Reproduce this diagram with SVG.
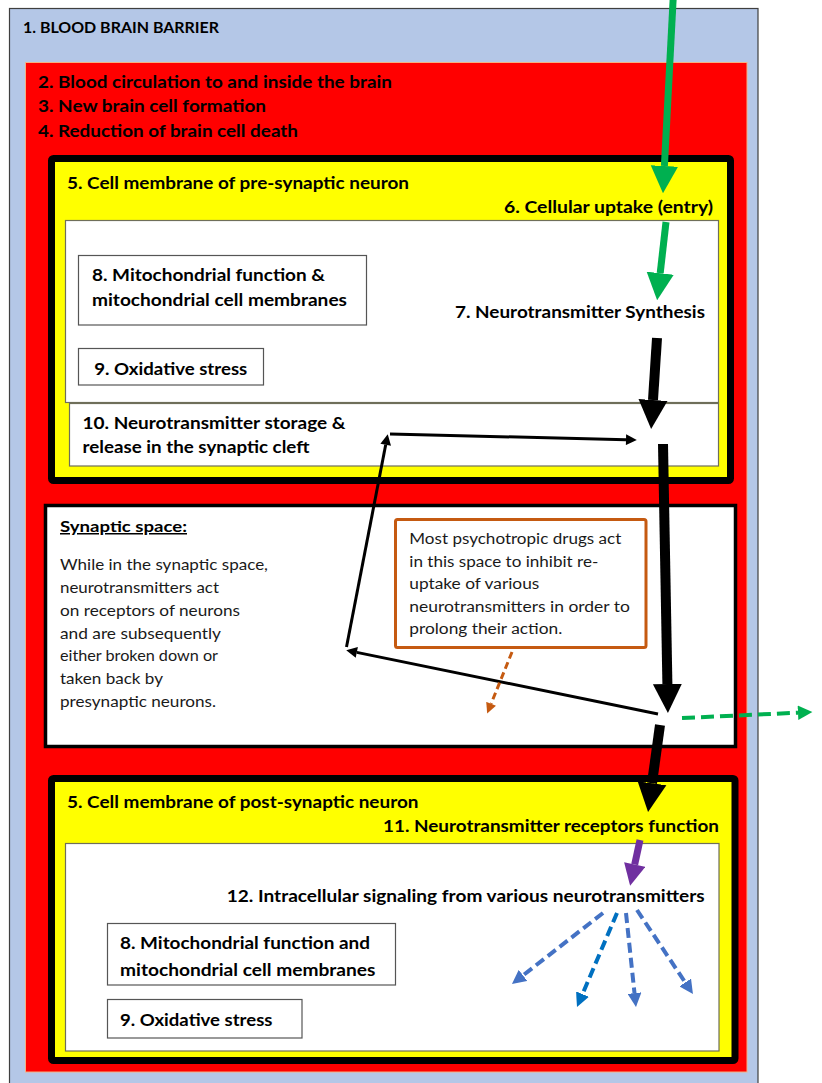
<svg xmlns="http://www.w3.org/2000/svg" width="822" height="1083" viewBox="0 0 822 1083">
<style>
text{font-family:Lato,"Liberation Sans",sans-serif;fill:#000}
.b{font-weight:700;font-size:17px}
.h1{font-weight:700;font-size:15.5px}
.r{font-weight:400;font-size:15px;fill:#1a1a1a}
.frame{fill:#FFFF00;stroke:#000;stroke-width:7}
.inner{fill:#fff;stroke:#6f6f5a;stroke-width:1.2}
.box{fill:#fff;stroke:#555;stroke-width:1.2}
.thick{stroke:#000;stroke-width:10;fill:none}
.thin{stroke:#000;stroke-width:3;fill:none}
.green{stroke:#00B050;stroke-width:7;fill:none}
.gdash{stroke:#00B050;stroke-width:4;fill:none;stroke-dasharray:13 6}
.odash{stroke:#C55A11;stroke-width:3;fill:none;stroke-dasharray:7 4}
.purple{stroke:#7030A0;stroke-width:7;fill:none}
.bdash{stroke:#4472C4;stroke-width:4;fill:none;stroke-dasharray:10 5}
.bdash2{stroke:#0070C0;stroke-width:4;fill:none;stroke-dasharray:10 5}
</style>
<defs>
<marker id="hBlackThick" viewBox="0 0 10 10" refX="0" refY="5" markerUnits="strokeWidth" markerWidth="2.9" markerHeight="3" orient="auto"><path d="M0,0 L10,5 L0,10 z" fill="#000"/></marker>
<marker id="hBlackThin" viewBox="0 0 10 10" refX="0" refY="5" markerUnits="strokeWidth" markerWidth="4" markerHeight="3.6" orient="auto"><path d="M0,0 L10,5 L0,10 z" fill="#000"/></marker>
<marker id="hGreen" viewBox="0 0 10 10" refX="0" refY="5" markerUnits="strokeWidth" markerWidth="3.9" markerHeight="4.2" orient="auto"><path d="M0,0 L10,5 L0,10 z" fill="#00B050"/></marker>
<marker id="hGreenD" viewBox="0 0 10 10" refX="0" refY="5" markerUnits="strokeWidth" markerWidth="3.75" markerHeight="3.6" orient="auto"><path d="M0,0 L10,5 L0,10 z" fill="#00B050"/></marker>
<marker id="hOrange" viewBox="0 0 10 10" refX="0" refY="5" markerUnits="strokeWidth" markerWidth="3.7" markerHeight="3.5" orient="auto"><path d="M0,0 L10,5 L0,10 z" fill="#C55A11"/></marker>
<marker id="hPurple" viewBox="0 0 10 10" refX="0" refY="5" markerUnits="strokeWidth" markerWidth="3.2" markerHeight="3.1" orient="auto"><path d="M0,0 L10,5 L0,10 z" fill="#7030A0"/></marker>
<marker id="hBlue" viewBox="0 0 10 10" refX="0" refY="5" markerUnits="strokeWidth" markerWidth="3.5" markerHeight="3.5" orient="auto"><path d="M0,0 L10,5 L0,10 z" fill="#4472C4"/></marker>
<marker id="hBlue2" viewBox="0 0 10 10" refX="0" refY="5" markerUnits="strokeWidth" markerWidth="3.5" markerHeight="3.5" orient="auto"><path d="M0,0 L10,5 L0,10 z" fill="#0070C0"/></marker>
</defs>
<rect width="822" height="1083" fill="#fff"/>

<g id="n1-bbb">
<rect x="9.5" y="8.5" width="748.5" height="1080" fill="#B4C7E7" stroke="#3f3f3f" stroke-width="1.2"/>
<text class="h1" x="23" y="33" textLength="196" lengthAdjust="spacingAndGlyphs">1. BLOOD BRAIN BARRIER</text>
</g>

<g id="n2-circulation">
<rect x="25.5" y="62.5" width="721.5" height="1009.5" fill="#FF0000" stroke="#F4B183" stroke-width="1"/>
<text class="b" x="38" y="87.5" textLength="354" lengthAdjust="spacingAndGlyphs">2. Blood circulation to and inside the brain</text>
<text class="b" x="38" y="112" textLength="228" lengthAdjust="spacingAndGlyphs">3. New brain cell formation</text>
<text class="b" x="38" y="136.5" textLength="260" lengthAdjust="spacingAndGlyphs">4. Reduction of brain cell death</text>
</g>

<g id="n5-pre">
<rect class="frame" x="51.5" y="158.5" width="679" height="322" rx="2"/>
<text class="b" x="67" y="188.5" textLength="342" lengthAdjust="spacingAndGlyphs">5. Cell membrane of pre-synaptic neuron</text>
<text class="b" x="504" y="212.5" textLength="209" lengthAdjust="spacingAndGlyphs">6. Cellular uptake (entry)</text>
</g>

<g id="n7-synthesis">
<rect class="inner" x="65.5" y="220.5" width="653" height="182"/>
<text class="b" x="455" y="318" textLength="250" lengthAdjust="spacingAndGlyphs">7. Neurotransmitter Synthesis</text>
</g>

<g id="n10-storage">
<rect class="inner" x="69.5" y="403.5" width="649" height="62.5"/>
<text class="b" x="82.5" y="429" textLength="263" lengthAdjust="spacingAndGlyphs">10. Neurotransmitter storage &amp;</text>
<text class="b" x="82.5" y="453" textLength="227" lengthAdjust="spacingAndGlyphs">release in the synaptic cleft</text>
</g>

<g id="n8-mito-pre">
<rect class="box" x="78.5" y="255.5" width="288" height="69.5"/>
<text class="b" x="92" y="281" textLength="233" lengthAdjust="spacingAndGlyphs">8. Mitochondrial function &amp;</text>
<text class="b" x="92" y="305.5" textLength="255" lengthAdjust="spacingAndGlyphs">mitochondrial cell membranes</text>
</g>

<g id="n9-ox-pre">
<rect class="box" x="78.5" y="348.5" width="185" height="36.5"/>
<text class="b" x="94.3" y="375" textLength="153" lengthAdjust="spacingAndGlyphs">9. Oxidative stress</text>
</g>

<g id="n-synaptic">
<rect x="45.5" y="505.5" width="690" height="241" fill="#fff" stroke="#000" stroke-width="3.5"/>
<text class="h1" x="60" y="532" textLength="127" lengthAdjust="spacingAndGlyphs" text-decoration="underline" style="font-size:15px">Synaptic space:</text>
<text class="r" x="60" y="570" textLength="208" lengthAdjust="spacingAndGlyphs">While in the synaptic space,</text>
<text class="r" x="60" y="593" textLength="159" lengthAdjust="spacingAndGlyphs">neurotransmitters act</text>
<text class="r" x="60" y="615.5" textLength="180" lengthAdjust="spacingAndGlyphs">on receptors of neurons</text>
<text class="r" x="60" y="638.5" textLength="161" lengthAdjust="spacingAndGlyphs">and are subsequently</text>
<text class="r" x="60" y="661" textLength="158" lengthAdjust="spacingAndGlyphs">either broken down or</text>
<text class="r" x="60" y="684" textLength="103" lengthAdjust="spacingAndGlyphs">taken back by</text>
<text class="r" x="60" y="706.5" textLength="156" lengthAdjust="spacingAndGlyphs">presynaptic neurons.</text>
</g>

<g id="n-drugs">
<rect x="395.5" y="519.5" width="250.5" height="128" rx="2" fill="#fff" stroke="#C55A11" stroke-width="3"/>
<text class="r" x="409.3" y="544" textLength="212" lengthAdjust="spacingAndGlyphs" style="font-size:15.5px">Most psychotropic drugs act</text>
<text class="r" x="409.3" y="566.5" textLength="189" lengthAdjust="spacingAndGlyphs" style="font-size:15.5px">in this space to inhibit re-</text>
<text class="r" x="409.3" y="589" textLength="130" lengthAdjust="spacingAndGlyphs" style="font-size:15.5px">uptake of various</text>
<text class="r" x="409.3" y="611.5" textLength="220.5" lengthAdjust="spacingAndGlyphs" style="font-size:15.5px">neurotransmitters in order to</text>
<text class="r" x="409.3" y="634" textLength="153" lengthAdjust="spacingAndGlyphs" style="font-size:15.5px">prolong their action.</text>
</g>

<g id="n5-post">
<rect class="frame" x="51.5" y="778.5" width="683.5" height="282" rx="2"/>
<text class="b" x="67" y="808" textLength="351.5" lengthAdjust="spacingAndGlyphs">5. Cell membrane of post-synaptic neuron</text>
<text class="b" x="383" y="832" textLength="336" lengthAdjust="spacingAndGlyphs">11. Neurotransmitter receptors function</text>
</g>

<g id="n12-signaling">
<rect class="inner" x="65.5" y="843.5" width="653.5" height="207.5"/>
<text class="b" x="226.7" y="902" textLength="478" lengthAdjust="spacingAndGlyphs">12. Intracellular signaling from various neurotransmitters</text>
</g>

<g id="n8-mito-post">
<rect class="box" x="107.5" y="923.5" width="288" height="61.5"/>
<text class="b" x="120" y="949" textLength="250" lengthAdjust="spacingAndGlyphs">8. Mitochondrial function and</text>
<text class="b" x="120" y="976" textLength="255.5" lengthAdjust="spacingAndGlyphs">mitochondrial cell membranes</text>
</g>

<g id="n9-ox-post">
<rect class="box" x="107.5" y="999.5" width="194.5" height="38.5"/>
<text class="b" x="120" y="1026" textLength="152.5" lengthAdjust="spacingAndGlyphs">9. Oxidative stress</text>
</g>

<g id="connectors">
<line class="green" x1="673.2" y1="-2" x2="664.4" y2="166" marker-end="url(#hGreen)"/>
<line class="green" x1="666" y1="222" x2="660.2" y2="273.2" marker-end="url(#hGreen)"/>
<line class="thick" x1="657" y1="338" x2="653" y2="400" marker-end="url(#hBlackThick)"/>
<line class="thin" x1="390" y1="434" x2="626" y2="439.7" marker-end="url(#hBlackThin)"/>
<line class="thick" x1="663" y1="444" x2="667.4" y2="684" marker-end="url(#hBlackThick)"/>
<line class="thin" x1="658" y1="714" x2="356.8" y2="652.4" marker-end="url(#hBlackThin)"/>
<line class="thin" x1="346.5" y1="647" x2="385.7" y2="444.8" marker-end="url(#hBlackThin)"/>
<line class="odash" x1="512" y1="652" x2="491.1" y2="703.8" marker-end="url(#hOrange)"/>
<line class="gdash" x1="682" y1="718" x2="798" y2="712.7" marker-end="url(#hGreenD)"/>
<line class="thick" x1="660" y1="725" x2="652" y2="783.3" marker-end="url(#hBlackThick)"/>
<line class="purple" x1="640" y1="840" x2="634.7" y2="864.5" marker-end="url(#hPurple)"/>
<line class="bdash" x1="603" y1="913" x2="523" y2="975.4" marker-end="url(#hBlue)"/>
<line class="bdash2" x1="617" y1="913" x2="582.5" y2="994.1" marker-end="url(#hBlue2)"/>
<line class="bdash" x1="626" y1="913" x2="634.5" y2="993.1" marker-end="url(#hBlue)"/>
<line class="bdash" x1="637" y1="910" x2="685.2" y2="982.4" marker-end="url(#hBlue)"/>
</g>
</svg>
